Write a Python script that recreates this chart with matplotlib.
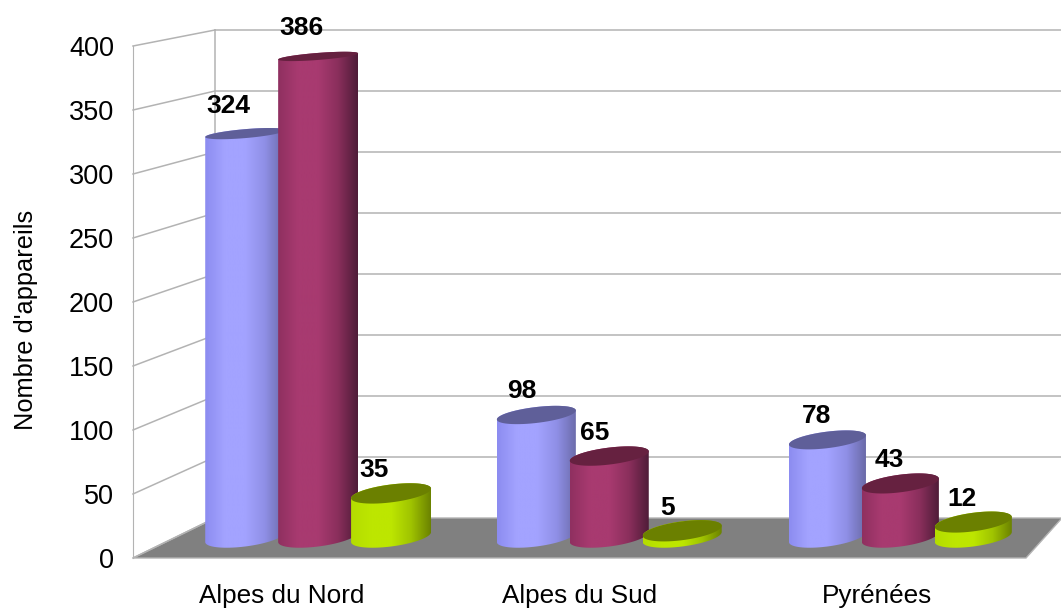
import numpy as np
import matplotlib
matplotlib.use("Agg")
import matplotlib.pyplot as plt
from matplotlib.colors import LinearSegmentedColormap
from matplotlib.patches import Polygon

plt.rcParams["font.family"] = ["Liberation Sans", "DejaVu Sans"]

# Values
categories = ["Alpes du Nord", "Alpes du Sud", "Pyrénées"]
series_blue = [324, 98, 78]
series_maroon = [386, 65, 43]
series_green = [35, 5, 12]
y_ticks = [0, 50, 100, 150, 200, 250, 300, 350, 400]
y_label = "Nombre d'appareils"

W, H = 1061, 608
LEFT, RIGHT, TOP, BOTTOM = 133, 1026, 46, 558
PX_X = (RIGHT - LEFT) / 3.0
PX_Y = (BOTTOM - TOP) / 400.0

# Depth of the fake 3D box, in axes units
DEPTH_X = 82 / PX_X
DEPTH_X_RIGHT = 36 / PX_X
DEPTH_Y = 40 / PX_Y
BACK_SCALE = 488 / 512

# Where the cylinders stand in the box, perspective narrows them to the right
BAR_BASE = 21 / PX_Y
BAR_SCALE = 1.245 / PX_Y
BAR_OFFSET = 0.245
BAR_HALF_PX = [40, 39.5, 38.5]
LABEL_SHIFT_PX = [17, 15, 11]

GRID = "#b3b3b3"

styles = [
    (series_blue, ["#8c8cf0", "#a3a3ff", "#a3a3ff", "#8f8fe6", "#6a6aa8"], "#5f5f99"),
    (series_maroon, ["#8f3060", "#a83a70", "#a83a70", "#8a2f5c", "#4f1c38"], "#662140"),
    (series_green, ["#b4dc00", "#bde600", "#bde600", "#a0c400", "#6b8200"], "#6b8000"),
]


def ellipse(cx, cy, a, b, k, start, stop):
    # k tilts the ellipse so that its right side sits higher
    t = np.linspace(start, stop, 60)
    return np.column_stack([cx + a * np.cos(t), cy + b * np.sin(t) + k * np.cos(t)])


def draw_cylinder(ax, x, half, value, colors, top_color, z):
    y_top = BAR_BASE + value * BAR_SCALE
    b_top = (9.5 - 0.0155 * value) / PX_Y
    k_top = (5 - 0.005 * value) / PX_Y
    b_low = 9.5 / PX_Y
    k_low = 5 / PX_Y

    lower = ellipse(x, BAR_BASE, half, b_low, k_low, np.pi, 2 * np.pi)
    upper = ellipse(x, y_top, half, b_top, k_top, 0, np.pi)
    body = Polygon(np.vstack([lower, upper]), closed=True, transform=ax.transData,
                   facecolor="none", edgecolor="none")
    ax.add_patch(body)

    # Horizontal shading clipped to the cylinder outline
    cmap = LinearSegmentedColormap.from_list("shade", colors)
    img = ax.imshow(np.linspace(0, 1, 256).reshape(1, -1), cmap=cmap, aspect="auto",
                    extent=(x - half, x + half, 0, y_top + 20), zorder=z)
    img.set_clip_path(body)

    cap = Polygon(ellipse(x, y_top, half, b_top, k_top, 0, 2 * np.pi), closed=True,
                  facecolor=top_color, edgecolor="none", zorder=z + 0.5, clip_on=False)
    ax.add_patch(cap)


def main():
    fig = plt.figure(figsize=(W / 100, H / 100), dpi=100)
    ax = fig.add_axes([LEFT / W, 1 - BOTTOM / H, (RIGHT - LEFT) / W, (BOTTOM - TOP) / H])
    xlim = (-0.5, 2.5)
    ylim = (0, 400)
    back_x = xlim[0] + DEPTH_X
    back_right = xlim[1] + DEPTH_X_RIGHT

    # Floor of the box
    floor = [(xlim[0], 0), (xlim[1], 0), (back_right, DEPTH_Y), (back_x, DEPTH_Y)]
    ax.add_patch(Polygon(floor, closed=True, facecolor="#808080", edgecolor=GRID,
                         linewidth=1, zorder=1, clip_on=False))

    # Grid lines on the side wall and the back wall
    for v in y_ticks:
        back_y = DEPTH_Y + v * BACK_SCALE
        ax.plot([xlim[0], back_x], [v, back_y], color=GRID, lw=1.1, zorder=2, clip_on=False)
        if v > 0:
            ax.plot([back_x, back_right], [back_y, back_y], color=GRID, lw=1.1,
                    zorder=2, clip_on=False)
    ax.plot([back_x, back_x], [DEPTH_Y, DEPTH_Y + 400 * BACK_SCALE], color=GRID, lw=1.1,
            zorder=2, clip_on=False)

    # Cylinders and their value labels
    z = 3
    for i in range(len(categories)):
        centre = i * 0.978 + 0.122
        half = BAR_HALF_PX[i] / PX_X
        for j, (values, colors, top_color) in enumerate(styles):
            x = centre + (j - 1) * BAR_OFFSET
            draw_cylinder(ax, x, half, values[i], colors, top_color, z)
            z += 1
            label_y = BAR_BASE + values[i] * BAR_SCALE + (22.5 + 0.016 * values[i]) / PX_Y
            ax.text(x - LABEL_SHIFT_PX[i] / PX_X, label_y, str(values[i]), ha="center",
                    va="center", fontsize=19, fontweight="bold", color="black",
                    zorder=50, clip_on=False)

    ax.set_xlim(xlim)
    ax.set_ylim(ylim)
    ax.set_xticks(range(len(categories)))
    ax.set_xticklabels(categories, fontsize=18.8)
    ax.set_yticks(y_ticks)
    ax.tick_params(axis="y", length=0, pad=13.7, labelsize=19.5)
    ax.tick_params(axis="x", length=0, pad=18.5)
    ax.set_ylabel(y_label, fontsize=18.3)
    ax.yaxis.set_label_coords((38 - LEFT) / (RIGHT - LEFT), (BOTTOM - 320) / (BOTTOM - TOP))

    for name in ["top", "right", "bottom"]:
        ax.spines[name].set_visible(False)
    ax.spines["left"].set_color(GRID)
    ax.patch.set_visible(False)

    fig.savefig("out.png", dpi=100)
    plt.close(fig)


if __name__ == "__main__":
    main()
